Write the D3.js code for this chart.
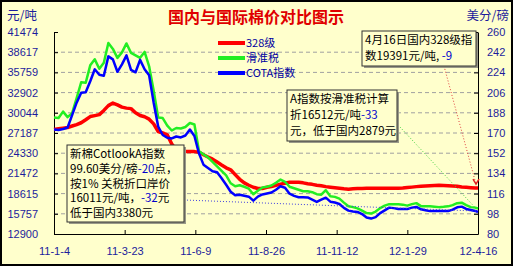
<!DOCTYPE html>
<html>
<head>
<meta charset="utf-8">
<script src="https://cdn.jsdelivr.net/npm/d3@7"></script>
<style>
  body { margin: 0; background: #fff; }
  text { font-family: 'Liberation Sans', Arial, sans-serif; }
  .cjk { font-family: 'Noto Sans CJK SC', sans-serif; }
</style>
</head>
<body>
<svg id="chart" width="520" height="268"></svg>
<script>
// sample dates, y-m-d
const dates = [
  '11-1-4','11-1-9','11-1-14','11-1-19','11-1-24','11-1-29','11-2-3','11-2-8','11-2-13','11-2-18',
  '11-2-23','11-2-28','11-3-5','11-3-10','11-3-15','11-3-20','11-3-25','11-3-30','11-4-4','11-4-9',
  '11-4-14','11-4-19','11-4-24','11-4-29','11-5-4','11-5-9','11-5-14','11-5-19','11-5-24','11-5-29',
  '11-6-3','11-6-8','11-6-13','11-6-18','11-6-23','11-6-28','11-7-3','11-7-8','11-7-13','11-7-18',
  '11-7-23','11-7-28','11-8-2','11-8-7','11-8-12','11-8-17','11-8-22','11-8-27','11-9-1','11-9-6',
  '11-9-11','11-9-16','11-9-21','11-9-26','11-10-1','11-10-6','11-10-11','11-10-16','11-10-21','11-10-26',
  '11-10-31','11-11-5','11-11-10','11-11-15','11-11-20','11-11-25','11-11-30','11-12-5','11-12-10','11-12-15',
  '11-12-20','11-12-25','11-12-30','12-1-4','12-1-9','12-1-14','12-1-19','12-1-24','12-1-29','12-2-3',
  '12-2-8','12-2-13','12-2-18','12-2-23','12-2-28','12-3-4','12-3-9','12-3-14','12-3-19','12-3-24',
  '12-3-29','12-4-3','12-4-8','12-4-13','12-4-16'
]

// 328级 (元/吨)
const grade328 = [
  27680,27778,27877,27961,28172,28384,28637,29059,29510,29650,
  29791,30382,31058,31424,31171,30847,30706,30636,30045,29665,
  29482,29144,28482,27398,27187,26934,25625,24794,24583,24583,
  24583,24555,24456,24119,23795,23485,23077,22655,22261,21979,
  21303,20642,20135,19797,19516,19333,19319,19516,19614,19783,
  19952,20079,20220,20220,20220,20135,20022,19924,19797,19713,
  19600,19516,19445,19375,19291,19234,19291,19333,19347,19375,
  19375,19375,19375,19375,19375,19375,19375,19403,19473,19530,
  19600,19656,19685,19727,19755,19797,19769,19741,19698,19656,
  19560,19500,19450,19400,19391
]

// 滑准税 (元/吨)
const slidingTax = [
  29369,29299,30213,29439,30002,32114,34366,34296,36759,37603,
  36266,37111,39926,39081,37815,38589,39856,38518,38166,37815,
  38659,36618,33169,29369,29299,28243,27539,27891,27821,28032,
  28595,28384,24653,24161,23739,23105,22472,21838,21205,20079,
  19656,19797,19586,19305,18530,19023,19473,19586,19755,20149,
  20600,20290,19586,19375,19164,18953,18953,18812,18530,18460,
  19093,18249,18150,17897,17334,16813,16701,16518,16208,15856,
  15786,16067,16560,16912,17123,17123,17123,17052,16912,17123,
  17264,16841,16841,16841,16771,16701,16743,16813,16982,17264,
  17334,16982,16701,16630,16512
]

// COTA指数 (元/吨)
const cotaIndex = [
  27680,27609,27750,27961,29721,31480,32888,32958,34507,36196,
  35422,35281,38026,37603,35844,36900,38166,36125,35774,37533,
  36196,35351,31480,28102,26906,26511,26413,26694,26554,26835,
  27680,26765,24302,22711,22232,21768,21627,20783,19868,18882,
  18390,18460,18319,18179,17615,18179,18488,18629,18770,19164,
  19656,19445,18601,18291,18108,18108,18066,17756,17432,17756,
  18038,17475,17348,17151,16588,16208,16095,16025,15715,15223,
  15082,15293,15856,16250,16630,16560,16447,16419,16419,16630,
  16729,16391,16264,16137,16137,16137,16137,16137,16349,16672,
  16771,16447,16306,16166,16011
]

const leftTicks = [12900, 15757, 18615, 21472, 24330, 27187, 30044, 32902, 35759, 38617, 41474]
const rightTicks = [80, 98, 116, 134, 152, 170, 188, 206, 224, 242, 260]
const xTickLabels = ['11-1-4', '11-3-23', '11-6-9', '11-8-26', '11-11-12', '12-1-29', '12-4-16']

const seriesNames = ['328级', '滑准税', 'COTA指数']
const seriesColors = ['#ff0000', '#22ee22', '#0000ff']

const notes = [
  [[['4月16日国内328级指']], [['数19391元/吨, '], ['-9', 1]]],
  [[['A指数按滑准税计算']], [['折16512元/吨'], ['-33', 1]], [['元，低于国内2879元']]],
  [[['新棉CotlookA指数']], [['99.60美分/磅'], ['-20', 1], ['点，']], [['按1% 关税折口岸价']],
   [['16011元/吨，'], ['-32', 1], ['元']], [['低于国内3380元']]]
]

const parse = d3.timeParse('%y-%-m-%-d')
const bg = '#ffffcc'
const axisText = '#1c1c9c'
const svg = d3.select('#chart')

svg.append('rect').attr('x', 1).attr('y', 1).attr('width', 511).attr('height', 264)
  .attr('fill', bg).attr('stroke', '#000').attr('stroke-width', 2)

const plot = { left: 54, right: 478, top: 32, bottom: 234 }

const x = d3.scaleTime().domain([parse(dates[0]), parse(dates[dates.length - 1])]).range([plot.left, plot.right])
const yL = d3.scaleLinear().domain([12900, 41474]).range([plot.bottom, plot.top])
const yR = d3.scaleLinear().domain([80, 260]).range([plot.bottom, plot.top])

// grid
svg.append('g').selectAll('line').data(leftTicks.slice(1, -1)).join('line')
  .attr('x1', plot.left).attr('x2', plot.right)
  .attr('y1', d => yL(d)).attr('y2', d => yL(d))
  .attr('stroke', '#a0a0a0').attr('stroke-width', 1).attr('stroke-dasharray', '4,3')

function styleAxis(g) {
  g.select('.domain').attr('stroke', '#000')
  g.selectAll('.tick line').attr('stroke', '#000')
  g.selectAll('.tick text').attr('fill', axisText).attr('font-size', 11)
    .attr('font-family', "'Liberation Sans', Arial, sans-serif")
}

svg.append('g').attr('transform', `translate(${plot.left},0)`)
  .call(d3.axisLeft(yL).tickValues(leftTicks).tickSizeInner(-4).tickSizeOuter(0).tickPadding(16).tickFormat(d3.format('d')))
  .call(styleAxis)

svg.append('g').attr('transform', `translate(${plot.right},0)`)
  .call(d3.axisRight(yR).tickValues(rightTicks).tickSizeInner(-4).tickSizeOuter(0).tickPadding(9).tickFormat(d3.format('d')))
  .call(styleAxis)

svg.append('g').attr('transform', `translate(0,${plot.bottom})`)
  .call(d3.axisBottom(x).tickValues(xTickLabels.map(parse)).tickSizeInner(-4).tickSizeOuter(0).tickPadding(13)
    .tickFormat(d3.timeFormat('%y-%-m-%-d')))
  .call(styleAxis)

// series
const line = d3.line().x(d => x(d.date)).y(d => yL(d.v))
const series = [grade328, slidingTax, cotaIndex]
const widths = [3.5, 2.5, 2.5]
series.forEach((vals, i) => {
  const pts = vals.map((v, j) => ({ date: parse(dates[j]), v }))
  svg.append('path').datum(pts).attr('d', line)
    .attr('fill', 'none').attr('stroke', seriesColors[i]).attr('stroke-width', widths[i])
    .attr('stroke-linejoin', 'round')
})

// leader lines
const lastDate = parse(dates[dates.length - 1])
const lastIdx = dates.length - 1
const leaders = [
  { from: [444, 66], to: [x(lastDate) - 2, yL(grade328[lastIdx]) - 4], color: '#e04040' },
  { from: [400, 127], to: [x(lastDate) - 3, yL(slidingTax[lastIdx]) - 1], color: '#40d040' },
  { from: [184, 200], to: [x(lastDate) - 2, yL(cotaIndex[lastIdx]) - 1], color: '#4040e0' }
]
leaders.forEach(l => {
  svg.append('line').attr('x1', l.from[0]).attr('y1', l.from[1]).attr('x2', l.to[0]).attr('y2', l.to[1])
    .attr('stroke', l.color).attr('stroke-width', 1).attr('stroke-dasharray', '1,2')
})
// small arrow head on the red leader
{
  const [tx, ty] = leaders[0].to
  svg.append('path').attr('d', `M${tx - 3},${ty - 5}L${tx},${ty}L${tx + 3},${ty - 5}`)
    .attr('fill', 'none').attr('stroke', '#e02020').attr('stroke-width', 1.5)
}

// title and units
svg.append('text').attr('class', 'cjk').attr('x', 256).attr('y', 23).attr('text-anchor', 'middle')
  .attr('font-size', 16).attr('font-weight', 'bold').attr('fill', '#e00000').text('国内与国际棉价对比图示')
svg.append('text').attr('class', 'cjk').attr('x', 7).attr('y', 20).attr('font-size', 12.5).attr('fill', axisText).text('元/吨')
svg.append('text').attr('class', 'cjk').attr('x', 509).attr('y', 20).attr('text-anchor', 'end')
  .attr('font-size', 12.5).attr('fill', axisText).text('美分/磅')

// legend
const legendY = [43, 58, 73]
seriesNames.forEach((name, i) => {
  svg.append('line').attr('x1', 218).attr('x2', 245).attr('y1', legendY[i]).attr('y2', legendY[i])
    .attr('stroke', seriesColors[i]).attr('stroke-width', 4)
  svg.append('text').attr('class', 'cjk').attr('x', 246).attr('y', legendY[i] + 4)
    .attr('font-size', 11).attr('fill', '#0000a0').text(name)
})

// annotation boxes
const boxes = [
  { x: 362, y: 31, w: 114, h: 35, lh: 15.5 },
  { x: 287, y: 90, w: 110, h: 51, lh: 16 },
  { x: 67, y: 145, w: 117, h: 77, lh: 14.8 }
]
notes.forEach((lines, i) => {
  const b = boxes[i]
  const g = svg.append('g')
  g.append('rect').attr('x', b.x + 2).attr('y', b.y + 2).attr('width', b.w).attr('height', b.h).attr('fill', '#999988')
  g.append('rect').attr('x', b.x).attr('y', b.y).attr('width', b.w).attr('height', b.h)
    .attr('fill', bg).attr('stroke', '#333').attr('stroke-width', 1)
  lines.forEach((segs, j) => {
    const t = g.append('text').attr('class', 'cjk').attr('x', b.x + 3).attr('y', b.y + 13 + j * b.lh)
      .attr('font-size', 11.5).attr('fill', '#000')
    segs.forEach(s => t.append('tspan').attr('fill', s[1] ? '#0000cc' : '#000').text(s[0]))
  })
})
</script>
</body>
</html>
